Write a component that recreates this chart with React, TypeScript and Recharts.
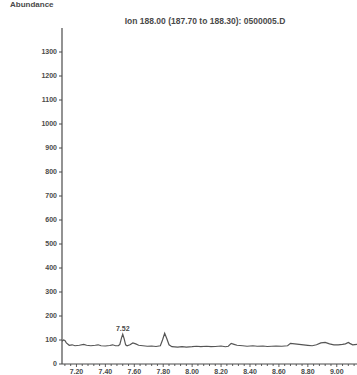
import React from "react"
import { LineChart, Line, XAxis, YAxis, ReferenceDot } from "recharts"

// retention time (min) and abundance
const times = [
  7.1, 7.11, 7.12, 7.13, 7.15, 7.17, 7.19, 7.22, 7.25, 7.27, 7.3, 7.33, 7.35,
  7.37, 7.4, 7.43, 7.45, 7.47, 7.49, 7.5, 7.512, 7.52, 7.53, 7.54, 7.55, 7.57,
  7.59, 7.61, 7.63, 7.66, 7.69, 7.72, 7.75, 7.78, 7.795, 7.81, 7.825, 7.84,
  7.86, 7.9, 7.93, 7.96, 8.0, 8.03, 8.06, 8.1, 8.13, 8.16, 8.2, 8.23, 8.25,
  8.27, 8.29, 8.31, 8.35, 8.38, 8.42, 8.45, 8.49, 8.52, 8.55, 8.58, 8.62, 8.66,
  8.68, 8.71, 8.74, 8.77, 8.8, 8.83, 8.86, 8.89, 8.92, 8.95, 8.98, 9.01, 9.04,
  9.06, 9.08, 9.09, 9.11, 9.14,
]
const abundance = [
  95, 100, 98, 88, 78, 80, 76, 78, 82, 78, 76, 78, 80, 76, 75, 77, 80, 76, 76,
  82, 110, 124, 105, 80, 76, 80, 88, 84, 78, 76, 74, 75, 73, 76, 100, 128, 105,
  80, 72, 70, 72, 70, 72, 74, 72, 74, 72, 73, 75, 72, 74, 86, 82, 78, 76, 74,
  76, 74, 75, 73, 74, 75, 74, 76, 86, 84, 82, 80, 78, 76, 80, 88, 90, 84, 80,
  80, 82, 84, 90, 86, 80, 82,
]

const xLabels = ["7.20", "7.40", "7.60", "7.80", "8.00", "8.20", "8.40", "8.60", "8.80", "9.00"]
const yTicks = [0, 100, 200, 300, 400, 500, 600, 700, 800, 900, 1000, 1100, 1200, 1300]
// minor ticks every 0.04 min, labelled ones every 0.2
const allTicks = Array.from({ length: 51 }, (_, i) => +(7.12 + i * 0.04).toFixed(2))

const peakTime = 7.52
const peakValue = 124
const title = "Ion 188.00 (187.70 to 188.30): 0500005.D"

const data = times.map((t, i) => ({ t, v: abundance[i] }))

const ink = "#4a4a4a"
const font = "'Liberation Sans', Arial, sans-serif"
const tickStyle = { fontSize: 7, fontWeight: 700, fill: ink, fontFamily: font }

const TimeTick = (props: any) => {
  const { x, y, payload } = props
  const label = payload.value.toFixed(2)
  const major = xLabels.includes(label)
  return (
    <g>
      <line x1={x} x2={x} y1={y} y2={y + (major ? 3 : 2)} stroke={ink} strokeWidth={0.9} />
      {major && (
        <text x={x} y={y + 10} textAnchor="middle" {...tickStyle}>
          {label}
        </text>
      )}
    </g>
  )
}

export default function App() {
  return (
    <div
      style={{
        position: "fixed",
        left: 0,
        top: 0,
        width: 357,
        height: 375,
        background: "#fff",
        fontFamily: font,
      }}
    >
      <div
        style={{
          position: "absolute",
          left: 10,
          top: 0,
          fontSize: 8,
          fontWeight: 700,
          color: ink,
        }}
      >
        Abundance
      </div>
      <div
        style={{
          position: "absolute",
          left: 105,
          width: 200,
          top: 16,
          fontSize: 8.5,
          fontWeight: 700,
          color: ink,
          textAlign: "center",
          whiteSpace: "nowrap",
        }}
      >
        {title}
      </div>
      <LineChart
        width={357}
        height={375}
        data={data}
        margin={{ top: 28, right: 0, bottom: 0, left: 0 }}
      >
        <XAxis
          dataKey="t"
          type="number"
          domain={[7.1, 9.14]}
          ticks={allTicks}
          allowDataOverflow
          height={11}
          interval={0}
          axisLine={{ stroke: ink, strokeWidth: 1.2 }}
          tickLine={false}
          tickSize={0}
          tickMargin={0}
          tick={<TimeTick />}
        />
        <YAxis
          type="number"
          domain={[0, 1400]}
          ticks={yTicks}
          width={62}
          interval={0}
          axisLine={{ stroke: ink, strokeWidth: 1.2 }}
          tickLine={{ stroke: ink, strokeWidth: 1 }}
          tickSize={3}
          tickMargin={2}
          tick={tickStyle}
        />
        <Line
          dataKey="v"
          type="linear"
          stroke="#555"
          strokeWidth={1.2}
          dot={false}
          isAnimationActive={false}
        />
        <ReferenceDot
          x={peakTime}
          y={peakValue}
          r={0}
          label={{ value: "7.52", position: "top", offset: 3, style: tickStyle }}
        />
      </LineChart>
    </div>
  )
}
